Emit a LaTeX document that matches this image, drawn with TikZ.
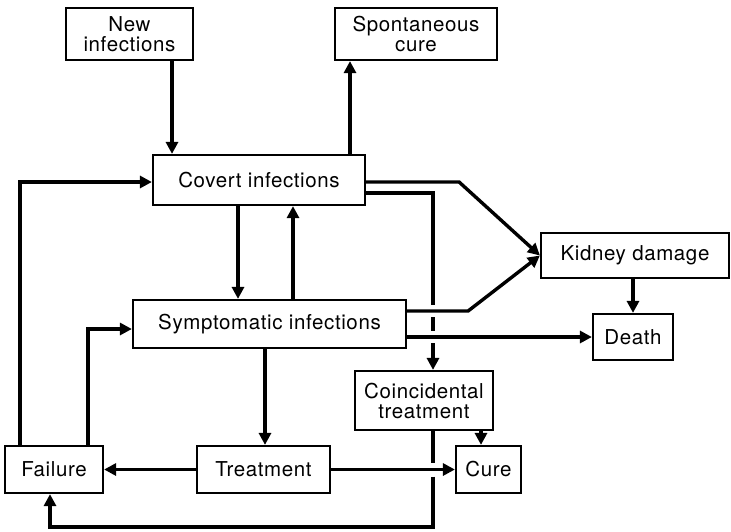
\documentclass[tikz,border=0pt]{standalone}
\usepackage{fontspec}
\setmainfont{TeX Gyre Heros}[LetterSpace=3]
\usetikzlibrary{arrows.meta}
\begin{document}
\begin{tikzpicture}[x=1pt,y=1pt,
  box/.style={draw, line width=2.2pt, inner sep=0pt, align=center, font=\fontsize{20.5}{20}\selectfont},
  conn/.style={line width=3.4pt},
  arr/.style={conn,-{Triangle[length=12pt,width=12pt]}}]
\useasboundingbox (0,0) rectangle (731,-531);
\fill[white] (0,0) rectangle (731,-531);
% nodes
\node[box, minimum width=127pt, minimum height=52pt] (new) at (129.5,-34) {New\\infections};
\node[box, minimum width=162pt, minimum height=52pt] (spont) at (416,-34) {Spontaneous\\cure};
\node[box, minimum width=212pt, minimum height=50pt] (covert) at (259,-180) {Covert infections};
\node[box, minimum width=273pt, minimum height=48pt] (sympt) at (269.5,-324) {Symptomatic infections};
\node[box, minimum width=188pt, minimum height=45pt] (kidney) at (635,-255.5) {Kidney damage};
\node[box, minimum width=80pt, minimum height=46pt] (death) at (633,-337) {Death};
\node[box, minimum width=138pt, minimum height=59pt] (coinc) at (424,-400.5) {Coincidental\\treatment};
\node[box, minimum width=98pt, minimum height=47pt] (failure) at (54,-469.5) {Failure};
\node[box, minimum width=133pt, minimum height=47pt] (treat) at (263.5,-469.5) {Treatment};
\node[box, minimum width=65pt, minimum height=47pt] (cure) at (488.5,-469.5) {Cure};
% connectors
\draw[arr] ([xshift=42.5pt]new.south) -- ([xshift=42.5pt]new.south |- covert.north);
\draw[arr] ([xshift=91pt]covert.north) -- ([xshift=91pt]covert.north |- spont.south);
\draw[arr] ([xshift=-21pt]covert.south) -- ([xshift=-21pt]covert.south |- sympt.north);
\draw[arr] ([xshift=34pt]covert.south |- sympt.north) -- ([xshift=34pt]covert.south);
\draw[arr] ([xshift=-34pt]failure.north) |- ([yshift=-2pt]covert.west);
\draw[arr] ([xshift=34pt]failure.north) |- ([yshift=-5pt]sympt.west);
\draw[arr] ([xshift=-4.5pt]sympt.south) -- ([xshift=-4.5pt]sympt.south |- treat.north);
\draw[arr] (treat.west) -- (failure.east);
\draw[arr] (treat.east) -- (cure.west);
\draw[arr] ([xshift=57pt]coinc.south) -- ([xshift=57pt]coinc.south |- cure.north);
% covert -> coincidental (broken at crossings)
\coordinate (v) at ([xshift=9pt]coinc.north);
\coordinate (s1) at ([yshift=13pt]sympt.east);
\coordinate (s2) at ([yshift=-13pt]sympt.east);
\coordinate (g1) at (v |- s1);
\coordinate (g2) at (v |- s2);
\draw[conn] ([yshift=-13pt]covert.east) -| ([yshift=6pt]g1);
\draw[conn] ([yshift=-6pt]g1) -- ([yshift=6pt]g2);
\draw[arr] ([yshift=-6pt]g2) -- (v);
% coincidental -> failure (broken at crossing)
\coordinate (w) at ([xshift=9pt]coinc.south);
\coordinate (g3) at (w |- treat.east);
\coordinate (bot) at ([yshift=-57.5pt]g3);
\draw[conn] (w) -- ([yshift=7pt]g3);
\draw[arr] ([yshift=-7pt]g3) -- (bot) -| ([xshift=-4pt]failure.south);
% kidney and death
\draw[arr] ([yshift=-2pt]covert.east) -- ++(93pt,0) -- (kidney.west);
\draw[arr] (s1) -- ++(61pt,0) -- (kidney.west);
\draw[arr] (s2) -- (death.west);
\draw[arr] (kidney.south -| death.north) -- (death.north);
\end{tikzpicture}
\end{document}
